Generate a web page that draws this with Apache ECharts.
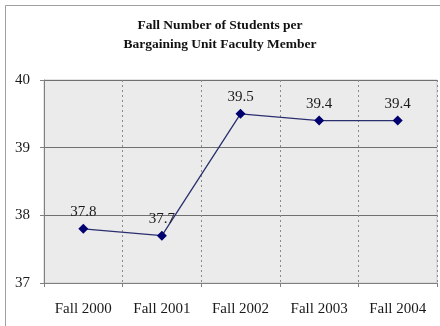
<!DOCTYPE html>
<html>
<head>
<meta charset="utf-8">
<script src="https://cdn.jsdelivr.net/npm/echarts@6/dist/echarts.min.js"></script>
<style>
  html, body { margin: 0; padding: 0; background: #ffffff; }
  #chart { width: 440px; height: 326px; }
</style>
</head>
<body>
<div id="chart"></div>
<script>
// Fall terms and students per bargaining-unit faculty member
const terms = ['Fall 2000', 'Fall 2001', 'Fall 2002', 'Fall 2003', 'Fall 2004'];
const studentsPerFaculty = [37.8, 37.7, 39.5, 39.4, 39.4];
const titleLines = ['Fall Number of Students per', 'Bargaining Unit Faculty Member'];

const serif = '"Liberation Serif", "Times New Roman", serif';

const chart = echarts.init(document.getElementById('chart'));
chart.setOption({
  animation: false,
  backgroundColor: '#ffffff',
  title: {
    text: titleLines.join('\n'),
    left: 'center',
    top: 11,
    textStyle: {
      fontFamily: serif,
      fontSize: 13.5,
      fontWeight: 'bold',
      color: '#111111',
      lineHeight: 19
    }
  },
  graphic: [{
    type: 'rect',
    shape: { x: 5.5, y: 5.5, width: 460, height: 340 },
    style: { fill: 'none', stroke: '#a0a0a0', lineWidth: 1 },
    silent: true
  }],
  grid: {
    left: 44,
    right: 3,
    top: 80,
    bottom: 43,
    show: true,
    backgroundColor: '#ebebeb',
    borderColor: '#c8c8c8',
    borderWidth: 1
  },
  xAxis: {
    type: 'category',
    data: terms,
    boundaryGap: true,
    axisLine: { lineStyle: { color: '#808080', width: 1 } },
    axisTick: { show: true, length: 4, lineStyle: { color: '#808080' } },
    axisLabel: {
      fontFamily: serif,
      fontSize: 15,
      color: '#1a1a1a',
      margin: 19
    },
    splitLine: {
      show: true,
      lineStyle: { color: '#8a8a8a', type: [2, 3], width: 1 }
    }
  },
  yAxis: {
    type: 'value',
    min: 37,
    max: 40,
    interval: 1,
    axisLine: { show: true, lineStyle: { color: '#808080', width: 1 } },
    axisTick: { show: true, length: 4, lineStyle: { color: '#808080' } },
    axisLabel: {
      fontFamily: serif,
      fontSize: 15,
      color: '#1a1a1a',
      margin: 14
    },
    splitLine: {
      show: true,
      lineStyle: { color: '#707070', width: 1 }
    }
  },
  series: [{
    type: 'line',
    data: studentsPerFaculty,
    symbol: 'diamond',
    symbolSize: 10,
    itemStyle: { color: '#000070' },
    lineStyle: { color: '#2a2f6e', width: 1.3 },
    label: {
      show: true,
      position: 'top',
      distance: 4,
      fontFamily: serif,
      fontSize: 15,
      color: '#1a1a1a'
    }
  }]
});
</script>
</body>
</html>
